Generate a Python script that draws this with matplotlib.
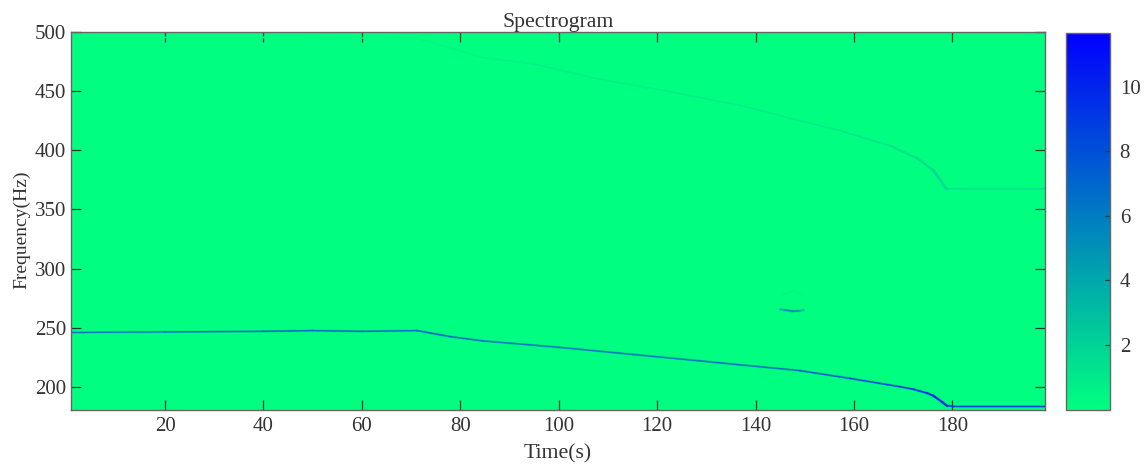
import numpy as np
import matplotlib
matplotlib.use('Agg')
import matplotlib.pyplot as plt
from matplotlib.collections import LineCollection
from matplotlib.colors import Normalize
from matplotlib.cm import ScalarMappable

plt.rcParams['font.family'] = ['Liberation Serif', 'DejaVu Serif']

# ridge of the fundamental
low_t = [1, 20, 40, 50, 60, 71.2, 78, 84.6, 100, 115, 128.7, 149, 159.2, 169.3, 172.1, 174.9, 176.1, 177.9, 178.9, 180, 199]
low_f = [246, 246.5, 247, 247.6, 247, 247.6, 242.5, 238.9, 233.5, 227.5, 222, 213.8, 207.2, 200.2, 198, 194.7, 192.6, 187.2, 184, 183.8, 183.8]
low_amp = [6, 6, 6.5, 7, 6.5, 7, 6.5, 6, 6, 6, 6, 6.5, 7.5, 8.5, 9, 9.5, 10, 10, 10, 8.5, 8.5]

# ridge of the second harmonic
up_t = [1, 40, 71.2, 84.6, 94.8, 108.4, 122, 136.9, 147, 157.2, 167.4, 172.8, 176.1, 177.5, 178.7, 199]
up_f = [495.5, 495.5, 494.8, 478.4, 473, 460, 450, 438, 427, 416.6, 403.7, 393.3, 383, 375, 367.4, 367.5]
up_amp = [0.2, 0.2, 0.3, 0.5, 0.5, 0.6, 0.6, 0.7, 0.8, 1, 1.2, 1.5, 1.8, 1.8, 1.5, 1.0]

# short event near 147 s
ev_t = [145, 146, 147.5, 149, 149.8]
ev_f = [265.5, 265, 264, 264.3, 265.2]
ev_amp = [3, 5, 5.5, 4.5, 2.5]

# faint traces around the event
ring_t = [145.5, 147.5, 149.5]
ring_f = [278, 281, 278]
ring_amp = [0.3, 0.4, 0.3]

xticks = [20, 40, 60, 80, 100, 120, 140, 160, 180]
yticks = [200, 250, 300, 350, 400, 450, 500]
cticks = [2, 4, 6, 8, 10]

W, H = 1148, 466
cmap = plt.get_cmap('winter_r')
norm = Normalize(0, 11.67)
edge = '#666666'
txt = '#333333'
tickc = '#1f3a32'


def px_axes(fig, l, t, r, b):
    return fig.add_axes([l / W, 1 - b / H, (r - l) / W, (b - t) / H])


def ridge(ax, t, f, amp, base=1.0, gain=0.14):
    pts = np.column_stack([t, f])
    segs = np.stack([pts[:-1], pts[1:]], axis=1)
    a = (np.array(amp[:-1]) + np.array(amp[1:])) / 2
    # line gets wider where the frequency drops fast
    slope = np.abs(np.diff(f) / np.diff(t))
    # soft halo first, then the core
    halo = LineCollection(segs, cmap=cmap, norm=norm, linewidths=base + 0.8 + gain * slope,
                          capstyle='round', alpha=0.25)
    halo.set_array(a)
    ax.add_collection(halo)
    lc = LineCollection(segs, cmap=cmap, norm=norm, linewidths=base + gain * slope,
                        capstyle='round')
    lc.set_array(a)
    ax.add_collection(lc)


fig = plt.figure(figsize=(W / 100, H / 100), dpi=100)
ax = px_axes(fig, 71, 32, 1045, 410)
ax.set_facecolor(cmap(norm(0)))
ridge(ax, low_t, low_f, low_amp)
ridge(ax, up_t, up_f, up_amp)
ridge(ax, ev_t, ev_f, ev_amp, base=1.2, gain=0)
ridge(ax, ring_t, ring_f, ring_amp, base=1.0, gain=0)
ax.set_xlim(0.9, 198.8)
ax.set_ylim(180.5, 500)
ax.set_xticks(xticks)
ax.set_yticks(yticks)
ax.tick_params(direction='in', length=7.2, width=0.9, color=tickc, labelsize=15,
               labelcolor=txt, pad=3.5, top=True, right=True)
ax.tick_params(axis='x', pad=5)
ax.set_xlabel('Time(s)', fontsize=15.7, color=txt, labelpad=6)
ax.set_ylabel('Frequency(Hz)', fontsize=14, color=txt, labelpad=3, y=0.478)
ax.set_title('Spectrogram', fontsize=15.7, color=txt, pad=3.5)
for s in ax.spines.values():
    s.set_color(edge)
    s.set_linewidth(1.0)

cax = px_axes(fig, 1066, 33, 1110, 409.5)
cb = fig.colorbar(ScalarMappable(norm=norm, cmap=cmap), cax=cax)
cb.set_ticks(cticks)
cb.ax.tick_params(direction='in', length=3.5, width=0.9, color=tickc, labelsize=15,
                  labelcolor=txt, pad=7)
cb.outline.set_edgecolor(edge)
cb.outline.set_linewidth(1.0)

fig.savefig('out.png', dpi=100)
